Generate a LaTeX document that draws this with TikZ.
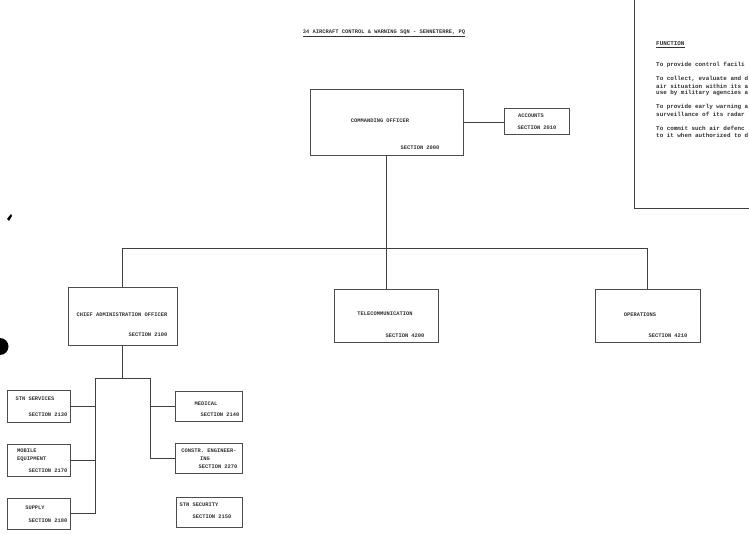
\documentclass[tikz,border=0pt]{standalone}
\usepackage{fontspec}
\setmonofont{Liberation Mono}
\begin{document}
\begin{tikzpicture}[x=1pt,y=-1pt,
  box/.style={draw=black!70,line width=0.6pt,rectangle,inner sep=0pt},
  conn/.style={draw=black!75,line width=0.6pt},
  lbl/.style={font=\ttfamily\bfseries\fontsize{5.4}{6.4}\selectfont,inner sep=0pt,text=black!80},
  lbll/.style={lbl,anchor=west},
  fnt/.style={lbll,font=\ttfamily\bfseries\fontsize{5.9}{7}\selectfont}]
\useasboundingbox (0,0) rectangle (749,534);
\fill[white] (0,0) rectangle (749,534);

% title
\node[lbl] (title) at (384,33) {\underline{34 AIRCRAFT CONTROL \& WARNING SQN - SENNETERRE, PQ}};

% function panel
\coordinate (fpa) at (634,0);
\coordinate (fpb) at (634,208);
\coordinate (fpc) at (749,208);
\draw[conn] (fpa) -- (fpb) -- (fpc);
\node[fnt] (fn) at (656,45) {\underline{FUNCTION}};
\node[fnt] (f1) at (656,65) {To provide control facili};
\node[fnt] (f2) at (656,79) {To collect, evaluate and d};
\node[fnt] (f3) at (656,86) {air situation within its a};
\node[fnt] (f4) at (656,93) {use by military agencies a};
\node[fnt] (f5) at (656,107) {To provide early warning a};
\node[fnt] (f6) at (656,114) {surveillance of its radar};
\node[fnt] (f7) at (656,128) {To commit such air defenc};
\node[fnt] (f8) at (656,135) {to it when authorized to d};

% boxes
\node[box,minimum width=153pt,minimum height=66pt] (co) at (386.5,122) {};
\node[box,minimum width=65pt,minimum height=26pt] (acc) at (536.5,121) {};
\node[box,minimum width=109pt,minimum height=58pt] (cao) at (122.5,316) {};
\node[box,minimum width=104pt,minimum height=53pt] (tel) at (386,315.5) {};
\node[box,minimum width=105pt,minimum height=53pt] (ops) at (647.5,315.5) {};
\node[box,minimum width=63pt,minimum height=32pt] (stn) at (38.5,406) {};
\node[box,minimum width=63pt,minimum height=32pt] (mob) at (38.5,460) {};
\node[box,minimum width=63pt,minimum height=31pt] (sup) at (38.5,513.5) {};
\node[box,minimum width=67pt,minimum height=30pt] (med) at (208.5,406) {};
\node[box,minimum width=67pt,minimum height=30pt] (con) at (208.5,458) {};
\node[box,minimum width=66pt,minimum height=30pt] (sec) at (209,512) {};

% labels
\node[lbl] (coa) at (380,121) {COMMANDING OFFICER};
\node[lbl] (cob) at (420,148) {SECTION 2000};
\node[lbl] (acca) at (531,116) {ACCOUNTS};
\node[lbl] (accb) at (537,128) {SECTION 2010};
\node[lbl] (caoa) at (122,315) {CHIEF ADMINISTRATION OFFICER};
\node[lbl] (caob) at (148,335) {SECTION 2100};
\node[lbl] (tela) at (385,314) {TELECOMMUNICATION};
\node[lbl] (telb) at (405,336) {SECTION 4200};
\node[lbl] (opsa) at (640,315) {OPERATIONS};
\node[lbl] (opsb) at (668,336) {SECTION 4210};
\node[lbl] (stna) at (35,399) {STN SERVICES};
\node[lbl] (stnb) at (48,415) {SECTION 2130};
\node[lbll] (moba) at (17,451) {MOBILE};
\node[lbll] (mobb) at (17,459) {EQUIPMENT};
\node[lbl] (mobc) at (48,471) {SECTION 2170};
\node[lbl] (supa) at (35,508) {SUPPLY};
\node[lbl] (supb) at (48,521) {SECTION 2180};
\node[lbl] (meda) at (206,404) {MEDICAL};
\node[lbl] (medb) at (220,415) {SECTION 2140};
\node[lbl] (cona) at (209,451) {CONSTR. ENGINEER-};
\node[lbl] (conb) at (205,459) {ING};
\node[lbl] (conc) at (218,467) {SECTION 2270};
\node[lbl] (seca) at (199,505) {STN SECURITY};
\node[lbl] (secb) at (212,517) {SECTION 2150};

% connectors
\coordinate (bus) at (0,248);
\coordinate (lt) at (95,378);
\coordinate (rt) at (150,378);
\draw[conn] (co.east) -- (co.east -| acc.west);
\draw[conn] (co.south) -- (co.south |- bus);
\draw[conn] (cao.north) -- (cao.north |- bus) -- (ops.north |- bus) -- (ops.north);
\draw[conn] (tel.north) -- (tel.north |- bus);
\draw[conn] (cao.south) -- (cao.south |- lt);
\draw[conn] (lt) -- (rt);
\draw[conn] (lt) |- (sup.east);
\draw[conn] (stn.east) -- (stn.east -| lt);
\draw[conn] (mob.east) -- (mob.east -| lt);
\draw[conn] (rt) |- (con.west);
\draw[conn] (med.west) -- (med.west -| rt);

% scan marks
\fill[black] (7,219) -- (11,214) -- (12,216) -- (9,221) -- cycle;
\fill[black] (0,355) arc[start angle=90,end angle=-90,radius=8.5] -- cycle;
\end{tikzpicture}
\end{document}
